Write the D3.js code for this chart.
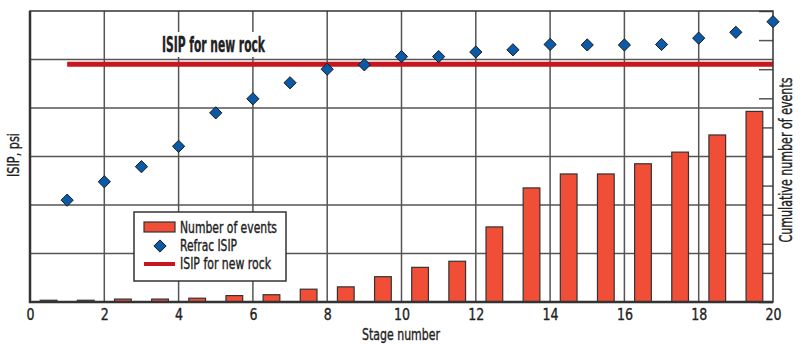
<!DOCTYPE html>
<html>
<head>
<meta charset="utf-8">
<script src="https://cdn.jsdelivr.net/npm/d3@7"></script>
<style>
  body { margin: 0; background: #fff; }
  text { font-family: "Liberation Sans Narrow", "DejaVu Sans Condensed", "Roboto", sans-serif; font-stretch: condensed; fill: #222; stroke: #222; stroke-width: 0.35px; }
</style>
</head>
<body>
<svg width="800" height="345"></svg>
<script>
// stage numbers
var stages = [1, 2, 3, 4, 5, 6, 7, 8, 9, 10, 11, 12, 13, 14, 15, 16, 17, 18, 19, 20];
// cumulative number of events (right axis, relative units)
var events = [0.6, 0.6, 1.0, 1.0, 1.3, 2.2, 2.5, 4.4, 5.2, 8.7, 11.9, 14.0, 25.8, 39.2, 44.0, 44.0, 47.5, 51.5, 57.4, 65.5];
// refrac ISIP (left axis, psi)
var isip = [2100, 2480, 2790, 3210, 3900, 4190, 4520, 4800, 4890, 5060, 5060, 5155, 5200, 5310, 5300, 5300, 5310, 5440, 5560, 5780];
// ISIP for new rock, from stage 1 to 20
var newRock = { from: 1, to: 20, value: 4900 };
var xTicks = [0, 2, 4, 6, 8, 10, 12, 14, 16, 18, 20];

var svg = d3.select("svg"),
    pLeft = 30, pRight = 773, pTop = 11, pBottom = 302;

var x = d3.scaleLinear().domain([0, 20]).range([pLeft, pRight]);
var y = d3.scaleLinear().domain([0, 6000]).range([pBottom, pTop]);
var yR = d3.scaleLinear().domain([0, 100]).range([pBottom, pTop]);

// grid
var grid = svg.append("g").attr("stroke", "#555").attr("stroke-width", 1.5);
grid.selectAll("line.v")
  .data(xTicks.slice(1, -1))
  .enter().append("line")
    .attr("x1", function(d) { return x(d); })
    .attr("x2", function(d) { return x(d); })
    .attr("y1", pTop).attr("y2", pBottom);
grid.selectAll("line.h")
  .data(y.ticks(6).slice(1, -1))
  .enter().append("line")
    .attr("x1", pLeft).attr("x2", pRight)
    .attr("y1", function(d) { return y(d); })
    .attr("y2", function(d) { return y(d); });

// right axis ticks (inside)
var rAxis = svg.append("g")
    .attr("transform", "translate(" + pRight + ",0)")
    .call(d3.axisLeft(yR).ticks(10).tickSize(14).tickFormat(""));
rAxis.select(".domain").remove();
rAxis.selectAll("line").attr("stroke", "#555").attr("stroke-width", 1.5);

// bars
var bw = x(0.45) - x(0);
svg.append("g").selectAll("rect")
  .data(stages)
  .enter().append("rect")
    .attr("x", function(d) { return x(d - 0.5) - bw / 2; })
    .attr("y", function(d, i) { return yR(events[i]); })
    .attr("width", bw)
    .attr("height", function(d, i) { return pBottom - yR(events[i]); })
    .attr("fill", "#f04e37")
    .attr("stroke", "#333")
    .attr("stroke-width", 1.2);

// new rock line
svg.append("line")
    .attr("x1", x(newRock.from)).attr("x2", x(newRock.to))
    .attr("y1", y(newRock.value)).attr("y2", y(newRock.value))
    .attr("stroke", "#c8161e").attr("stroke-width", 5);

// frame
svg.append("rect")
    .attr("x", pLeft).attr("y", pTop)
    .attr("width", pRight - pLeft).attr("height", pBottom - pTop)
    .attr("fill", "none").attr("stroke", "#333").attr("stroke-width", 1.5);
svg.append("path")
    .attr("d", "M" + pLeft + "," + pTop + "V" + pBottom + "H" + pRight)
    .attr("fill", "none").attr("stroke", "#333").attr("stroke-width", 2.5);

// diamonds
var diamond = d3.symbol().type(d3.symbolDiamond2).size(95);
svg.append("g").selectAll("path")
  .data(stages)
  .enter().append("path")
    .attr("d", diamond)
    .attr("transform", function(d, i) { return "translate(" + x(d) + "," + y(isip[i]) + ")"; })
    .attr("fill", "#0b5aa8")
    .attr("stroke", "#1a1a1a")
    .attr("stroke-width", 1);

// x axis labels
var xAxis = svg.append("g")
    .attr("transform", "translate(0," + pBottom + ")")
    .call(d3.axisBottom(x).tickValues(xTicks).tickSize(0).tickFormat(d3.format("d")));
xAxis.select(".domain").remove();
xAxis.selectAll("text")
    .attr("y", 18).attr("dy", 0)
    .style("font-size", "16px")
    .style("font-family", "\"Liberation Sans Narrow\", \"DejaVu Sans Condensed\", sans-serif")
    .attr("fill", "#222")
    .each(function(d) {
      d3.select(this).attr("textLength", d < 10 ? 8 : 16).attr("lengthAdjust", "spacingAndGlyphs");
    });

svg.append("text")
    .attr("x", 401).attr("y", 340)
    .attr("text-anchor", "middle")
    .attr("textLength", 78).attr("lengthAdjust", "spacingAndGlyphs")
    .style("font-size", "16px")
    .text("Stage number");

svg.append("text")
    .attr("transform", "translate(19,155) rotate(-90)")
    .attr("text-anchor", "middle")
    .attr("textLength", 44).attr("lengthAdjust", "spacingAndGlyphs")
    .style("font-size", "16px")
    .text("ISIP, psi");

svg.append("text")
    .attr("transform", "translate(792,160) rotate(-90)")
    .attr("text-anchor", "middle")
    .attr("textLength", 165).attr("lengthAdjust", "spacingAndGlyphs")
    .style("font-size", "17px")
    .text("Cumulative number of events");

// label above new rock line
svg.append("rect")
    .attr("x", 154).attr("y", 32).attr("width", 118).attr("height", 25)
    .attr("fill", "#fff");
svg.append("text")
    .attr("x", 162).attr("y", 52)
    .attr("textLength", 103).attr("lengthAdjust", "spacingAndGlyphs")
    .style("font-size", "21px").style("font-weight", "bold")
    .text("ISIP for new rock");

// legend
var lg = svg.append("g");
lg.append("rect")
    .attr("x", 134).attr("y", 212).attr("width", 152).attr("height", 69)
    .attr("fill", "#fff").attr("stroke", "#333").attr("stroke-width", 1.5);
lg.append("rect")
    .attr("x", 144).attr("y", 222).attr("width", 31).attr("height", 10)
    .attr("fill", "#f04e37").attr("stroke", "#333").attr("stroke-width", 1.2);
lg.append("path")
    .attr("d", diamond)
    .attr("transform", "translate(160,246)")
    .attr("fill", "#0b5aa8").attr("stroke", "#1a1a1a").attr("stroke-width", 1);
lg.append("line")
    .attr("x1", 144).attr("x2", 175).attr("y1", 264).attr("y2", 264)
    .attr("stroke", "#c8161e").attr("stroke-width", 4);
var legendText = ["Number of events", "Refrac ISIP", "ISIP for new rock"],
    legendLen = [97, 57, 91];
lg.selectAll("text.l")
  .data(legendText)
  .enter().append("text")
    .attr("x", 180)
    .attr("y", function(d, i) { return 233 + i * 18; })
    .attr("textLength", function(d, i) { return legendLen[i]; })
    .attr("lengthAdjust", "spacingAndGlyphs")
    .style("font-size", "15px")
    .text(function(d) { return d; });
</script>
</body>
</html>
